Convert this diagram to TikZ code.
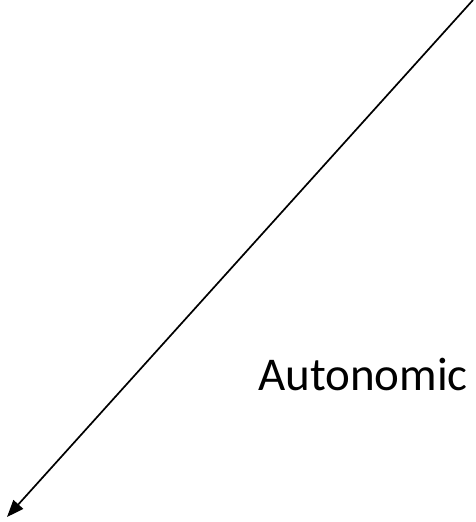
\documentclass[tikz,border=0pt]{standalone}
\usepackage{fontspec}
\setmainfont{Carlito}
\usetikzlibrary{arrows.meta}
\tikzset{
  arr/.style  = {-{Triangle[length=17pt, width=13pt]}, line width=1.7pt, black},
  labl/.style = {font=\fontsize{47}{56}\selectfont, anchor=base east, inner sep=0pt},
}
\begin{document}
\begin{tikzpicture}[x=1pt, y=-1pt]
  \useasboundingbox (0,0) rectangle (475,522);
  \coordinate (top) at (473,0);
  \coordinate (tip) at (7,517);
  \draw[arr] (top) -- (tip);
  \node[labl] (auto) at (468,390) {Autonomic};
\end{tikzpicture}
\end{document}
